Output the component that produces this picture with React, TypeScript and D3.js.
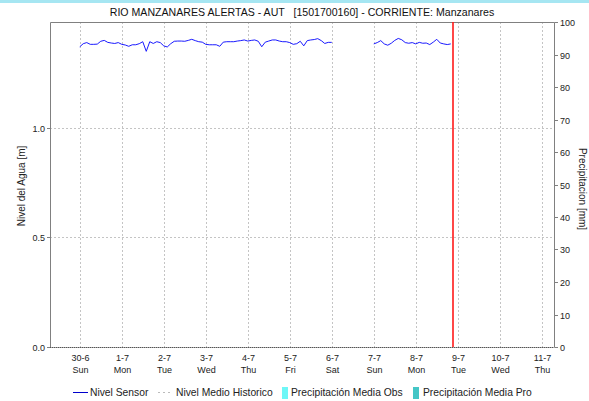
import React from "react";
import * as d3 from "d3";

// day tick labels (midnight of each day, 2024)
const dayLabels = ["30-6", "1-7", "2-7", "3-7", "4-7", "5-7", "6-7", "7-7", "8-7", "9-7", "10-7", "11-7"];
const weekdayLabels = ["Sun", "Mon", "Tue", "Wed", "Thu", "Fri", "Sat", "Sun", "Mon", "Tue", "Wed", "Thu"];

const levelTicks = [0, 0.5, 1.0];
const rainTicks = [0, 10, 20, 30, 40, 50, 60, 70, 80, 90, 100];

// Nivel Sensor, one reading every 2 hours
const sensorStepHours = 2;
const sensorStartA = "2024-06-30T00:00:00Z";
const sensorA = [
  1.371, 1.385, 1.39, 1.382, 1.382, 1.383, 1.396, 1.4, 1.391, 1.388, 1.386, 1.39,
  1.382, 1.379, 1.373, 1.38, 1.38, 1.385, 1.394, 1.35, 1.394, 1.386, 1.394, 1.39,
  1.375, 1.37, 1.385, 1.396, 1.397, 1.397, 1.396, 1.4, 1.405, 1.399, 1.394, 1.392,
  1.382, 1.38, 1.38, 1.38, 1.373, 1.392, 1.394, 1.394, 1.394, 1.397, 1.399, 1.402,
  1.397, 1.4, 1.402, 1.396, 1.371, 1.392, 1.397, 1.402, 1.402, 1.397, 1.394, 1.394,
  1.39, 1.382, 1.385, 1.396, 1.375, 1.399, 1.402, 1.404, 1.408, 1.399, 1.386, 1.391,
  1.391,
];
const sensorStartB = "2024-07-07T00:00:00Z";
const sensorB = [
  1.384, 1.39, 1.399, 1.384, 1.378, 1.387, 1.4, 1.409, 1.403, 1.39, 1.387, 1.39,
  1.384, 1.391, 1.387, 1.388, 1.381, 1.392, 1.405, 1.388, 1.384, 1.381, 1.384,
];

const nowTime = "2024-07-08T21:30:00Z";
const domainStart = "2024-06-29T07:00:00Z";
const domainEnd = "2024-07-11T07:00:00Z";

const W = 589;
const H = 401;
const plot = { left: 50, right: 554, top: 22, bottom: 347 };
const font = "'Liberation Sans', Arial, sans-serif";

const parseDay = (s: string) => {
  const [d, m] = s.split("-").map(Number);
  return new Date(Date.UTC(2024, m - 1, d));
};

const toSeries = (start: string, vals: number[]) => {
  const t0 = new Date(start).getTime();
  return vals.map((v, i) => ({ t: new Date(t0 + i * sensorStepHours * 3600000), v }));
};

const App: React.FC = () => {
  const x = d3
    .scaleUtc()
    .domain([new Date(domainStart), new Date(domainEnd)])
    .range([plot.left, plot.right]);
  const yLevel = d3.scaleLinear().domain([0, 1.484]).range([plot.bottom, plot.top]);
  const yRain = d3.scaleLinear().domain([0, 100]).range([plot.bottom, plot.top]);

  const line = d3
    .line<{ t: Date; v: number }>()
    .x(d => x(d.t))
    .y(d => yLevel(d.v));

  const segments = [toSeries(sensorStartA, sensorA), toSeries(sensorStartB, sensorB)];
  const nowX = Math.round(x(new Date(nowTime)));

  return (
    <svg
      width={W}
      height={H}
      style={{ position: "fixed", left: 0, top: 0, background: "#fff" }}
      fontFamily={font}
    >
      <rect x={0} y={0} width={W} height={3} fill="#a6e6f2" />

      <text x={302} y={16} textAnchor="middle" fontSize={10.6} fill="#111" style={{ whiteSpace: "pre" }}>
        {"RIO MANZANARES ALERTAS - AUT   [1501700160] - CORRIENTE: Manzanares"}
      </text>

      {/* vertical day grid */}
      {dayLabels.map((lab, i) => {
        const xx = Math.round(x(parseDay(lab))) + 0.5;
        return (
          <g key={lab}>
            <line x1={xx} x2={xx} y1={plot.top} y2={plot.bottom} stroke="#c4c4c4" strokeDasharray="2,2" />
            <text x={xx} y={361} textAnchor="middle" fontSize={9} fill="#222">{lab}</text>
            <text x={xx} y={373} textAnchor="middle" fontSize={9} fill="#222">{weekdayLabels[i]}</text>
          </g>
        );
      })}

      {/* horizontal level grid */}
      {levelTicks.filter(t => t > 0).map(t => {
        const yy = Math.round(yLevel(t)) + 0.5;
        return (
          <line key={t} x1={plot.left} x2={plot.right} y1={yy} y2={yy} stroke="#c4c4c4" strokeDasharray="2,2" />
        );
      })}

      {/* frame */}
      <path
        d={`M${plot.left + 0.5},${plot.bottom + 0.5}V${plot.top + 0.5}H${plot.right + 0.5}V${plot.bottom + 0.5}`}
        fill="none"
        stroke="#808080"
      />
      <line x1={plot.left} x2={plot.right} y1={plot.bottom + 0.5} y2={plot.bottom + 0.5} stroke="#aaa" />
      <line x1={plot.left} x2={plot.right} y1={plot.bottom + 0.5} y2={plot.bottom + 0.5} stroke="#555" strokeDasharray="1,1" />

      {/* left axis */}
      {levelTicks.map(t => {
        const yy = Math.round(yLevel(t)) + 0.5;
        return (
          <g key={t}>
            <line x1={plot.left - 3} x2={plot.left} y1={yy} y2={yy} stroke="#808080" />
            <text x={plot.left - 5} y={yy + 3} textAnchor="end" fontSize={9} fill="#222">
              {d3.format(".1f")(t)}
            </text>
          </g>
        );
      })}
      <text transform={`translate(25,186) rotate(-90)`} textAnchor="middle" fontSize={10} fill="#222">
        Nivel del Agua [m]
      </text>

      {/* right axis */}
      {rainTicks.map(t => {
        const yy = Math.round(yRain(t)) + 0.5;
        return (
          <g key={t}>
            <line x1={plot.right + 0.5} x2={plot.right + 4} y1={yy} y2={yy} stroke="#808080" />
            <text x={plot.right + 6} y={yy + 3} fontSize={9} fill="#222">{t}</text>
          </g>
        );
      })}
      <text transform={`translate(579,189) rotate(90)`} textAnchor="middle" fontSize={10} fill="#222">
        Precipitacion [mm]
      </text>

      {/* sensor series */}
      {segments.map((s, i) => (
        <path key={i} d={line(s) || ""} fill="none" stroke="#1a1aff" strokeWidth={1} />
      ))}

      {/* now marker */}
      <line x1={nowX} x2={nowX} y1={plot.top} y2={plot.bottom} stroke="#ff1a1a" strokeWidth={1.6} />

      {/* legend */}
      <g fontSize={10.3} fill="#222">
        <line x1={73} x2={88} y1={392.5} y2={392.5} stroke="#0000cc" />
        <text x={90} y={396}>Nivel Sensor</text>
        <line x1={158} x2={173} y1={392.5} y2={392.5} stroke="#bbb" strokeDasharray="2,3" />
        <text x={176} y={396}>Nivel Medio Historico</text>
        <rect x={282} y={387} width={6} height={12} fill="#6ef7f7" />
        <text x={291} y={396}>Precipitación Media Obs</text>
        <rect x={413} y={387} width={6} height={12} fill="#44c6c6" />
        <text x={423} y={396}>Precipitación Media Pro</text>
      </g>
    </svg>
  );
};

export default App;
